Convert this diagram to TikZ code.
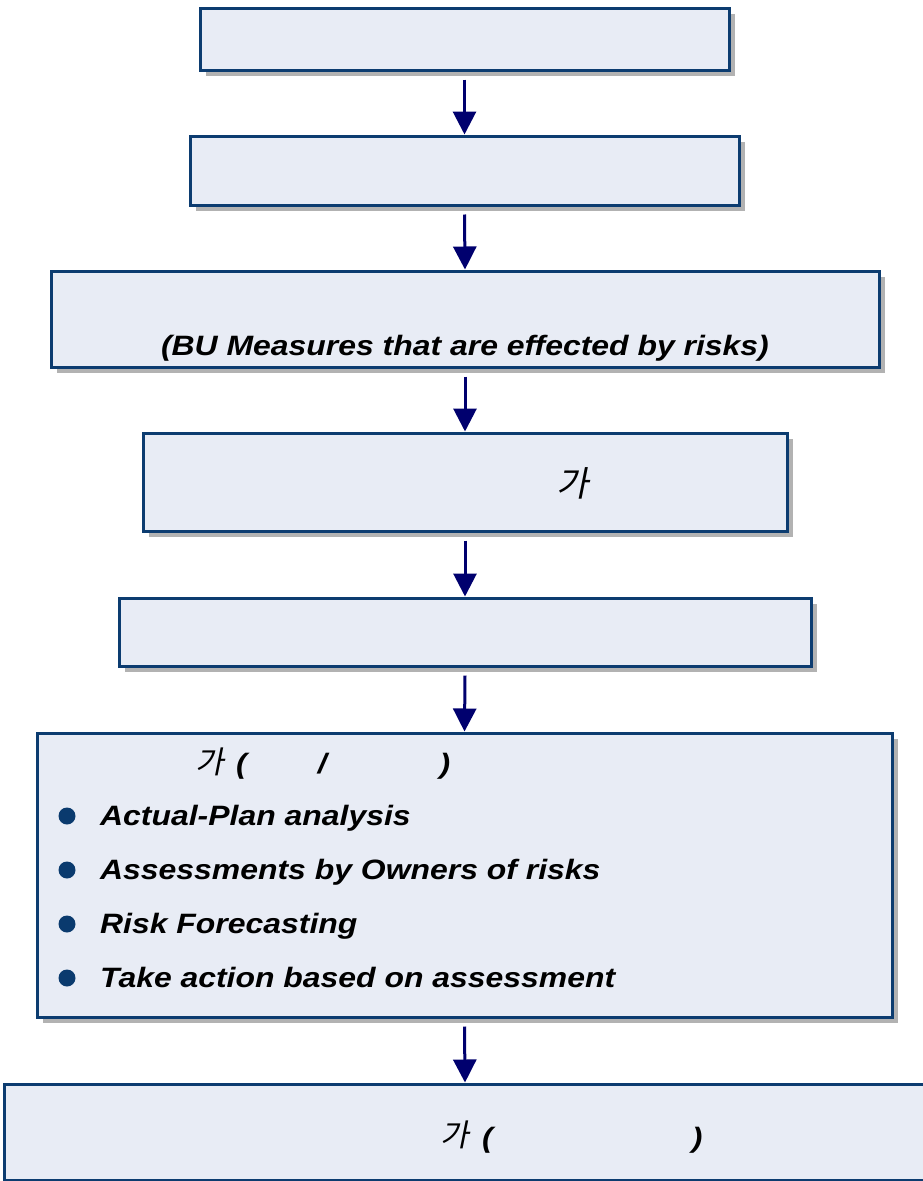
\documentclass[tikz,border=0pt]{standalone}
\usepackage{fontspec}
\setmainfont{Liberation Sans}
\newfontfamily\widefont[FakeStretch=1.14]{Liberation Sans}
\newfontfamily\krfont[FakeSlant=0.2]{Noto Sans CJK KR}
\usetikzlibrary{shadows,arrows.meta}
\definecolor{boxfill}{RGB}{232,236,245}
\definecolor{boxline}{RGB}{12,60,112}
\definecolor{shadowgray}{RGB}{178,178,178}
\definecolor{arrowblue}{RGB}{0,0,110}
\definecolor{bulletblue}{RGB}{10,58,110}
\begin{document}
\begin{tikzpicture}[x=1pt,y=-1pt,
  flowbox/.style={rectangle, draw=boxline, line width=3pt, fill=boxfill, inner sep=0pt,
    general shadow={fill=shadowgray, shadow xshift=6pt, shadow yshift=-6pt}},
  flowarrow/.style={draw=arrowblue, line width=3pt, -{Triangle[length=23pt,width=23pt]}},
  boxtext/.style={inner sep=0pt, text=black, font=\widefont\fontsize{28}{32}\selectfont\bfseries\itshape},
  krtext/.style={inner sep=0pt, text=black, font=\fontsize{31}{34}\selectfont\krfont},
  dot/.style={circle, fill=bulletblue, inner sep=0pt, minimum size=17pt}
]
\useasboundingbox (0,0) rectangle (922,1181);
\fill[white] (0,0) rectangle (922,1181);

% process boxes
\node[flowbox, minimum width=529pt, minimum height=62pt]  (b1) at (464.5,39)   {};
\node[flowbox, minimum width=549pt, minimum height=69pt]  (b2) at (464.5,170.5) {};
\node[flowbox, minimum width=828pt, minimum height=96pt]  (b3) at (465,319)    {};
\node[flowbox, minimum width=644pt, minimum height=98pt]  (b4) at (465,482)    {};
\node[flowbox, minimum width=692pt, minimum height=68pt]  (b5) at (465,632)    {};
\node[flowbox, minimum width=855pt, minimum height=284pt] (b6) at (464.5,875)  {};
\node[flowbox, minimum width=922pt, minimum height=96pt]  (b7) at (465,1132)   {};

% box texts
\node[boxtext, anchor=base] (t3) at (465,355) {(BU Measures that are effected by risks)};
\node[krtext, font=\fontsize{35}{38}\selectfont\krfont] (t4) at (573,483) {가};

\node[krtext] (t6k) at (210,762) {가};
\node[boxtext, anchor=base west] (t6) at (236,773) {(\hspace{71pt}/\hspace{113pt})};

\node[dot] (d1) at (67,816) {};
\node[dot] (d2) at (67,870) {};
\node[dot] (d3) at (67,924) {};
\node[dot] (d4) at (67,978) {};
\node[boxtext, anchor=base west] (l1) at (100,825) {Actual-Plan analysis};
\node[boxtext, anchor=base west] (l2) at (100,879) {Assessments by Owners of risks};
\node[boxtext, anchor=base west] (l3) at (100,933) {Risk Forecasting};
\node[boxtext, anchor=base west] (l4) at (100,987) {Take action based on assessment};

\node[krtext] (t7k) at (455,1135) {가};
\node[boxtext, anchor=base west] (t7) at (482,1147) {(\hspace{199pt})};

% connectors
\draw[flowarrow] ([yshift=-8pt]b1.south) -- (b2.north);
\draw[flowarrow] ([yshift=-8pt]b2.south) -- (b3.north);
\draw[flowarrow] ([yshift=-8pt]b3.south) -- (b4.north);
\draw[flowarrow] ([yshift=-8pt]b4.south) -- (b5.north);
\draw[flowarrow] ([yshift=-8pt]b5.south) -- (b6.north);
\draw[flowarrow] ([yshift=-8pt]b6.south) -- (b7.north);
\end{tikzpicture}
\end{document}
